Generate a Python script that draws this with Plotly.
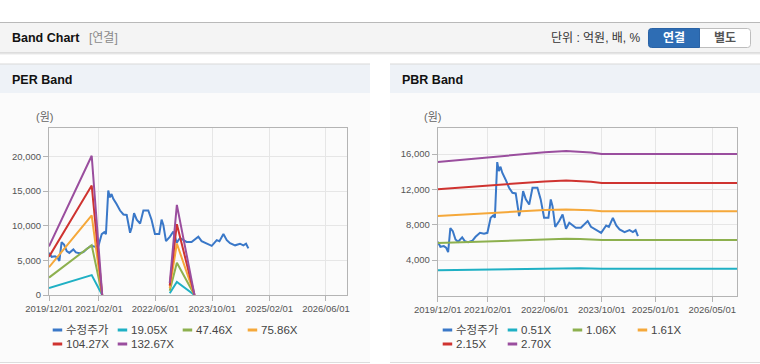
import plotly.graph_objects as go

# ---------------- data ----------------
price_name = "수정주가"
price_dates = [
    "2019-12-01", "2019-12-24", "2020-01-22", "2020-02-11", "2020-02-28", "2020-03-18",
    "2020-04-08", "2020-05-01", "2020-05-23", "2020-06-27", "2020-07-19", "2020-08-17",
    "2020-09-21", "2020-10-19", "2020-11-26", "2020-12-30", "2021-01-28", "2021-02-25",
    "2021-03-19", "2021-04-02", "2021-04-22", "2021-05-06", "2021-05-20", "2021-06-04",
    "2021-07-02", "2021-08-01", "2021-08-30", "2021-09-27", "2021-10-26", "2021-11-09",
    "2021-11-29", "2021-12-22", "2022-01-20", "2022-02-17", "2022-03-31", "2022-04-28",
    "2022-05-27", "2022-07-03", "2022-07-23", "2022-08-07", "2022-08-30", "2022-10-03",
    "2022-11-01", "2022-11-30", "2022-12-28", "2023-01-26", "2023-02-22", "2023-04-06",
    "2023-05-05", "2023-06-03", "2023-07-01", "2023-08-13", "2023-09-26", "2023-11-08",
    "2023-12-01", "2024-01-04", "2024-02-02", "2024-03-01", "2024-04-13", "2024-05-25",
    "2024-06-23", "2024-07-16", "2024-08-05",
]
price_vals = [
    6080, 5510, 5590, 5400, 4910, 7620,
    7280, 6340, 6080, 6570, 6150, 6040,
    6190, 6640, 7090, 6980, 7090, 8790,
    9060, 8790, 15090, 14080, 14570, 13890,
    13130, 12190, 11620, 11550, 8980, 9740,
    11810, 10870, 10300, 12190, 12190, 10870,
    8790, 8790, 10870, 10110, 7770, 8420,
    9170, 7550, 8230, 7920, 7660, 7660,
    8040, 8420, 7770, 7400, 7090, 7920,
    7770, 8790, 7920, 7470, 7170, 7400,
    7170, 7400, 6720,
]

# PER band (None = no band for that period)
per_dates = ["2019-12-01", "2020-12-01", "2021-03-01", "2022-01-01",
             "2022-10-01", "2022-12-01", "2023-05-01"]
per_names = ["19.05X", "47.46X", "75.86X", "104.27X", "132.67X"]
per_19 = [1010, 2870, 0, None, 250, 1870, 0]
per_47 = [2510, 7190, 0, None, 620, 4650, 0]
per_75 = [4010, 11490, 0, None, 990, 7430, 0]
per_104 = [5510, 15800, 0, None, 1360, 10220, 0]
per_132 = [7010, 20100, 0, None, 1720, 13000, 0]

# PBR band
pbr_dates = ["2019-12-01", "2020-08-01", "2021-02-01", "2021-10-01", "2022-06-01",
             "2022-12-01", "2023-04-01", "2023-07-01", "2023-10-01", "2026-12-01"]
pbr_names = ["0.51X", "1.06X", "1.61X", "2.15X", "2.70X"]
pbr_051 = [2850, 2910, 2950, 3010, 3060, 3090, 3080, 3060, 3020, 3020]
pbr_106 = [5930, 6040, 6120, 6270, 6370, 6410, 6390, 6350, 6280, 6280]
pbr_161 = [9000, 9180, 9300, 9520, 9670, 9740, 9710, 9640, 9540, 9540]
pbr_215 = [12020, 12260, 12420, 12710, 12910, 13010, 12970, 12880, 12740, 12740]
pbr_270 = [15090, 15390, 15590, 15960, 16210, 16340, 16280, 16170, 16000, 16000]

per_tick_vals = ["2019-12-01", "2021-02-01", "2022-06-01", "2023-10-01", "2025-02-01", "2026-06-01"]
per_tick_text = ["2019/12/01", "2021/02/01", "2022/06/01", "2023/10/01", "2025/02/01", "2026/06/01"]
pbr_tick_vals = ["2019-12-01", "2021-02-01", "2022-06-01", "2023-10-01", "2025-01-01", "2026-05-01"]
pbr_tick_text = ["2019/12/01", "2021/02/01", "2022/06/01", "2023/10/01", "2025/01/01", "2026/05/01"]
per_y_ticks = [0, 5000, 10000, 15000, 20000]
pbr_y_ticks = [4000, 8000, 12000, 16000]

# ---------------- style ----------------
W, H = 760, 364
colors = ["#3a78c8", "#1fb0c4", "#8db04e", "#f5a83a", "#cf3330", "#9a4e9e"]
FONT = "Liberation Sans, Noto Sans CJK KR, sans-serif"


def px(x):
    return x / W


def py(y):
    return 1 - y / H


fig = go.Figure()

per_series = [per_19, per_47, per_75, per_104, per_132]
pbr_series = [pbr_051, pbr_106, pbr_161, pbr_215, pbr_270]

fig.add_trace(go.Scatter(x=price_dates, y=price_vals, mode="lines", xaxis="x", yaxis="y",
                         line=dict(color=colors[0], width=2), showlegend=False, hoverinfo="skip"))
for i, (nm, s) in enumerate(zip(per_names, per_series)):
    fig.add_trace(go.Scatter(x=per_dates, y=s, mode="lines", xaxis="x", yaxis="y", name=nm,
                             line=dict(color=colors[i + 1], width=2), showlegend=False,
                             connectgaps=False, hoverinfo="skip"))

fig.add_trace(go.Scatter(x=price_dates, y=price_vals, mode="lines", xaxis="x2", yaxis="y2",
                         line=dict(color=colors[0], width=2), showlegend=False, hoverinfo="skip"))
for i, (nm, s) in enumerate(zip(pbr_names, pbr_series)):
    fig.add_trace(go.Scatter(x=pbr_dates, y=s, mode="lines", xaxis="x2", yaxis="y2", name=nm,
                             line=dict(color=colors[i + 1], width=2), showlegend=False,
                             hoverinfo="skip"))

axis_common = dict(showline=True, mirror=True, linecolor="#b4b4b4", linewidth=1,
                   gridcolor="#e6e6e6", gridwidth=1, zeroline=False, automargin=False,
                   ticks="outside", ticklen=5, tickcolor="#b4b4b4",
                   tickfont=dict(family=FONT, size=9.5, color="#555555"), fixedrange=True)

fig.update_layout(
    template="none",
    width=W, height=H, autosize=False,
    margin=dict(l=0, r=0, t=0, b=0, pad=0),
    paper_bgcolor="white", plot_bgcolor="rgba(0,0,0,0)",
    showlegend=False,
    xaxis=dict(domain=[px(49), px(347.3)], type="date", range=["2019-12-01", "2026-12-01"],
               tickvals=per_tick_vals, ticktext=per_tick_text, tickangle=0, anchor="y",
               **axis_common),
    yaxis=dict(domain=[py(295), py(128)], range=[0, 24100], tickvals=per_y_ticks,
               tickformat=",d", anchor="x", **axis_common),
    xaxis2=dict(domain=[px(437.7), px(737.3)], type="date", range=["2019-12-01", "2026-12-01"],
                tickvals=pbr_tick_vals, ticktext=pbr_tick_text, tickangle=0, anchor="y2",
                **axis_common),
    yaxis2=dict(domain=[py(295.5), py(128)], range=[0, 18950], tickvals=pbr_y_ticks,
                tickformat=",d", anchor="x2", **axis_common),
)

shapes = []
annos = []


def rect(x0, y0, x1, y1, fill, line=None, lw=0):
    shapes.append(dict(type="rect", xref="paper", yref="paper", x0=px(x0), x1=px(x1),
                       y0=py(y0), y1=py(y1), fillcolor=fill, layer="below",
                       line=dict(color=line or fill, width=lw)))


def hline(x0, x1, y, color, w=1, layer="below"):
    shapes.append(dict(type="line", xref="paper", yref="paper", x0=px(x0), x1=px(x1),
                       y0=py(y), y1=py(y), line=dict(color=color, width=w), layer=layer))


def round_rect(x0, y0, x1, y1, r, left, right, fill, line):
    # path with rounded corners on chosen sides (pixel coordinates -> paper)
    def P(x, y):
        return f"{px(x):.6f},{py(y):.6f}"
    rl = r if left else 0
    rr = r if right else 0
    d = f"M {P(x0 + rl, y0)} L {P(x1 - rr, y0)} "
    d += f"Q {P(x1, y0)} {P(x1, y0 + rr)} " if rr else ""
    d += f"L {P(x1, y1 - rr)} "
    d += f"Q {P(x1, y1)} {P(x1 - rr, y1)} " if rr else ""
    d += f"L {P(x0 + rl, y1)} "
    d += f"Q {P(x0, y1)} {P(x0, y1 - rl)} " if rl else ""
    d += f"L {P(x0, y0 + rl)} "
    d += f"Q {P(x0, y0)} {P(x0 + rl, y0)} " if rl else ""
    d += "Z"
    shapes.append(dict(type="path", xref="paper", yref="paper", path=d, fillcolor=fill,
                       line=dict(color=line, width=1), layer="below"))


def text(x, y, s, size=12, color="#333", bold=False, anchor="left"):
    if bold:
        s = "<b>" + s + "</b>"
    annos.append(dict(xref="paper", yref="paper", x=px(x), y=py(y), text=s, showarrow=False,
                      xanchor=anchor, yanchor="middle", borderpad=0,
                      font=dict(family=FONT, size=size, color=color)))


# top header bar
rect(0, 22.5, W, 53, "#f4f4f4")
hline(0, W, 22.5, "#b9b9b9")
hline(0, W, 53, "#c6c6c6")
hline(0, W, 54, "#e9e9e9")
text(11, 38, "Band Chart", 12.5, "#111111", bold=True)
text(88, 38, "[연결]", 12, "#8a8a8a")
text(641.5, 38, "단위 : 억원, 배, %", 12, "#333333", anchor="right")
round_rect(699.5, 28.5, 750.5, 47.5, 3, False, True, "#ffffff", "#bdbdbd")
round_rect(648.5, 28.5, 699.5, 47.5, 3, True, False, "#2e6db4", "#2a63a6")
text(674, 38.5, "연결", 12, "#ffffff", bold=True, anchor="center")
text(725, 38.5, "별도", 12, "#555555", bold=True, anchor="center")

# panels
for (x0, x1, title) in [(0, 370, "PER Band"), (390, 760, "PBR Band")]:
    rect(x0, 64, x1, 362.5, "#fbfbfb")
    rect(x0, 64, x1, 93, "#eef2f7")
    hline(x0, x1, 64, "#d9d9d9")
    hline(x0, x1, 362.5, "#dddddd")
    text(x0 + 11, 79.5, title, 12.5, "#111111", bold=True)

text(44, 117, "(원)", 11, "#666666", anchor="center")
text(432, 117, "(원)", 11, "#666666", anchor="center")

# legends
legend_sets = [
    (52.7, [price_name] + per_names),
    (442.7, [price_name] + pbr_names),
]
for (lx, names) in legend_sets:
    for i, nm in enumerate(names):
        row, col = divmod(i, 4)
        x0 = lx + col * 65
        yy = 330 + row * 14
        shapes.append(dict(type="line", xref="paper", yref="paper", x0=px(x0), x1=px(x0 + 9.5),
                           y0=py(yy), y1=py(yy), line=dict(color=colors[i], width=3),
                           layer="above"))
        text(x0 + 12.5, yy, nm, 11.5, "#444444")

fig.update_layout(shapes=shapes, annotations=annos)

fig.write_html(
    "out.html",
    config={"displayModeBar": False},
    post_script="document.body.style.margin='0';document.body.style.overflow='hidden';",
)
